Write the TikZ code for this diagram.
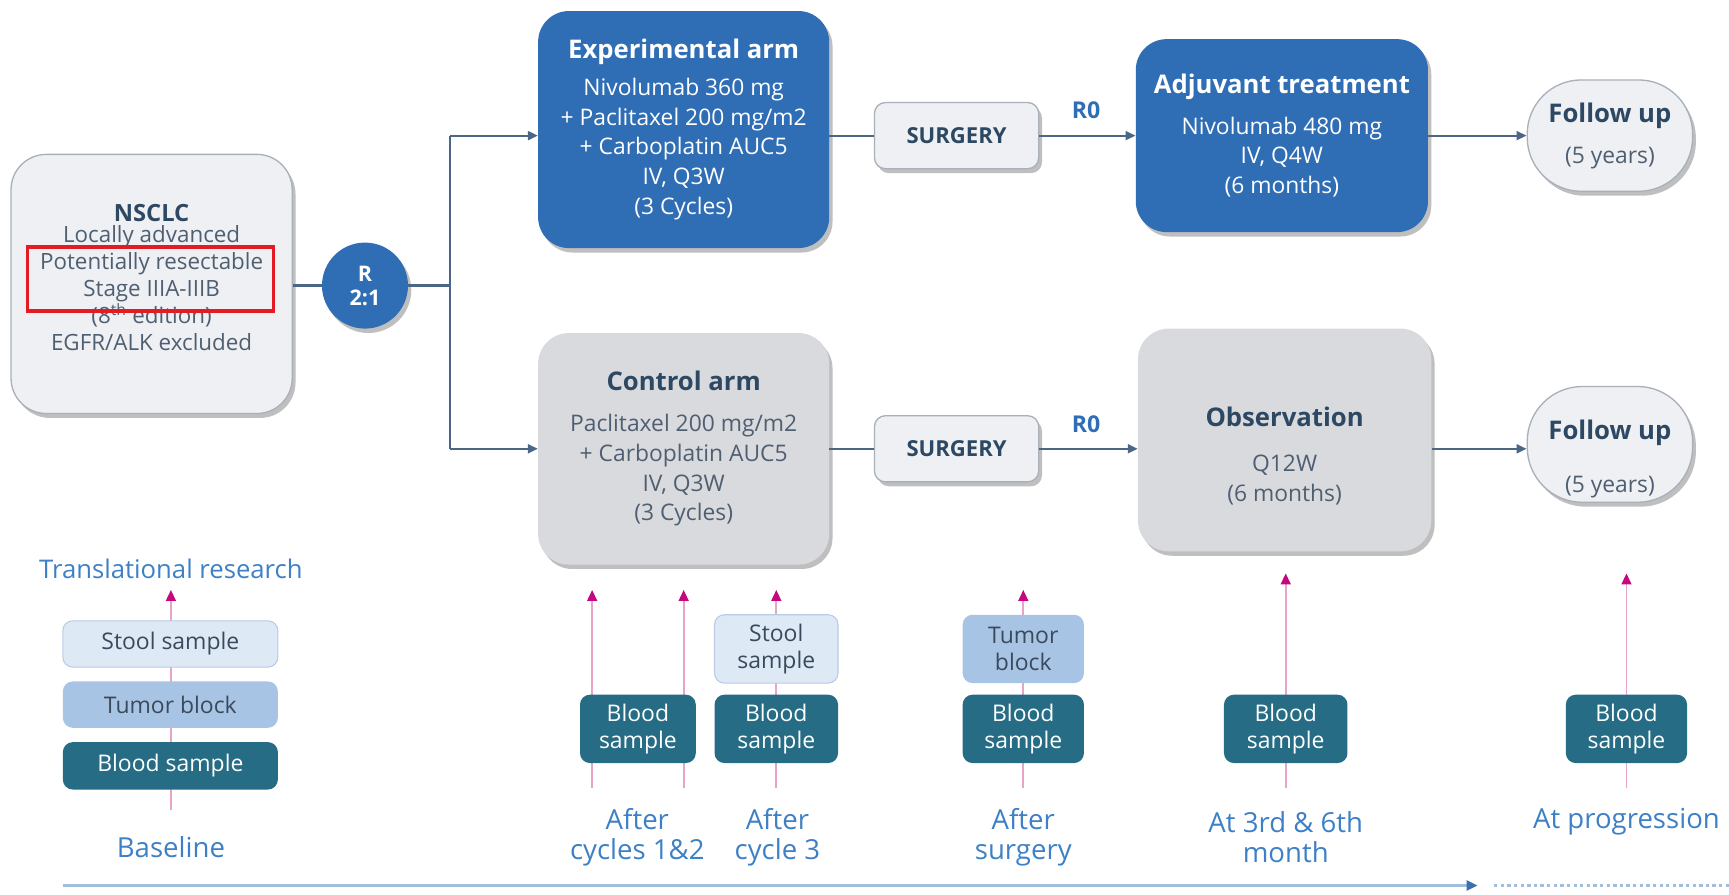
\documentclass[tikz,border=0pt]{standalone}
\usepackage{fontspec}
\setmainfont{Open Sans}
\usetikzlibrary{arrows.meta,shadows}
\definecolor{blueF}{HTML}{2F6DB5}
\definecolor{greyL}{HTML}{EEF0F3}
\definecolor{greyB}{HTML}{A9B0BA}
\definecolor{greyM}{HTML}{D9DADD}
\definecolor{titleT}{HTML}{2D4862}
\definecolor{bodyT}{HTML}{4F5F72}
\definecolor{connC}{HTML}{4B6785}
\definecolor{lblT}{HTML}{3D80C6}
\definecolor{pinkL}{HTML}{E8A3C8}
\definecolor{pinkA}{HTML}{C4087F}
\definecolor{bloodF}{HTML}{256C84}
\definecolor{tumorF}{HTML}{A8C4E5}
\definecolor{stoolF}{HTML}{DEE9F6}
\definecolor{stoolB}{HTML}{B9CCE6}
\definecolor{sampT}{HTML}{3A4A5C}
\definecolor{redC}{HTML}{E31B23}
\definecolor{timeC}{HTML}{A3BEDD}
\definecolor{timeA}{HTML}{3C6FB0}
\newcommand\fBody{\fontsize{20.7}{27}\selectfont}
\newcommand\fTitle{\fontsize{23.3}{27}\selectfont\bfseries}
\newcommand\fNs{\fontsize{20.3}{24.5}\selectfont}
\newcommand\fSamp{\fontsize{20.8}{25}\selectfont}
\newcommand\fLbl{\fontsize{25}{27}\selectfont}
\begin{document}
\begin{tikzpicture}[x=1pt,y=-1pt,
  shad/.style={drop shadow={shadow xshift=3pt,shadow yshift=-4pt,opacity=0.25,fill=black}},
  bigbox/.style={rectangle,rounded corners=28pt,align=center,inner sep=2pt,font=\fBody,shad},
  bluebox/.style={bigbox,fill=blueF,text=white},
  greybox/.style={bigbox,fill=greyM,text=bodyT},
  lightbox/.style={bigbox,fill=greyL,draw=greyB,line width=1.2pt,text=bodyT},
  conn/.style={draw=connC,line width=2pt},
  arr/.style={conn,-{Triangle[length=9pt,width=8pt]}},
  pinkarr/.style={draw=pinkL,line width=1.6pt,-{Triangle[length=10pt,width=9pt,color=pinkA]}},
  sample/.style={rectangle,rounded corners=9pt,align=center,inner sep=1pt,font=\fSamp},
  blood/.style={sample,fill=bloodF,text=white},
  tumor/.style={sample,fill=tumorF,text=sampT},
  stool/.style={sample,fill=stoolF,draw=stoolB,line width=1pt,text=sampT},
  lbl/.style={text=lblT,font=\fLbl,align=center,inner sep=0pt},
  rlbl/.style={text=blueF,font=\fontsize{21}{24}\selectfont\bfseries,inner sep=0pt}
]
\useasboundingbox (0,0) rectangle (1568,811);

% ---------- top part ----------
\node[lightbox,font=\fNs,minimum width=255pt,minimum height=235pt,rounded corners=32pt] (nsclc) at (137.5,257.5)
  {{\fontsize{21.5}{26}\selectfont\bfseries\color{titleT}NSCLC}\\[-5pt]
   Locally advanced\\Potentially resectable\\Stage IIIA-IIIB\\(8\textsuperscript{th} edition)\\{EGFR/ALK excluded\rule[-12pt]{0pt}{12pt}}};
\node[draw=redC,line width=3.5pt,minimum width=223pt,minimum height=58pt,inner sep=0pt] (redbox) at (136.5,253) {};

\node[circle,fill=blueF,minimum size=78pt,inner sep=0pt,align=center,text=white,
      font=\fontsize{19.5}{22}\selectfont\bfseries,shad] (rand) at (331,259) {R\\2:1};

\coordinate (split) at (408,259);
\coordinate (top) at (408,123);
\coordinate (bot) at (408,407);

\node[bluebox,minimum width=264pt,minimum height=215pt] (exp) at (620,117.5)
  {{\fTitle Experimental arm}\\[6pt]
   Nivolumab 360 mg\\+ Paclitaxel 200 mg/m2\\+ Carboplatin AUC5\\IV, Q3W\\(3 Cycles)};
\node[lightbox,rounded corners=10pt,minimum width=149pt,minimum height=60pt,
      font=\fontsize{20}{22}\selectfont\bfseries,text=titleT] (surg1) at (867.5,123) {SURGERY};
\node[bluebox,minimum width=265pt,minimum height=175pt] (adj) at (1162.5,123)
  {{\fTitle Adjuvant treatment}\\[10pt]
   Nivolumab 480 mg\\IV, Q4W\\(6 months)};
\node[lightbox,rounded corners=49pt,minimum width=150pt,minimum height=101pt] (fu1) at (1460,123)
  {{\fTitle\color{titleT}Follow up}\\[10pt](5 years)};
\node[rlbl] (r0a) at (985,100) {R0};

\node[greybox,minimum width=264pt,minimum height=210pt] (ctrl) at (620,407)
  {{\fTitle\color{titleT}Control arm}\\[10pt]
   Paclitaxel 200 mg/m2\\+ Carboplatin AUC5\\IV, Q3W\\(3 Cycles)};
\node[lightbox,rounded corners=10pt,minimum width=149pt,minimum height=60pt,
      font=\fontsize{20}{22}\selectfont\bfseries,text=titleT] (surg2) at (867.5,407) {SURGERY};
\node[greybox,minimum width=266pt,minimum height=202pt] (obs) at (1165,399)
  {{\rule{0pt}{46pt}\fTitle\color{titleT}Observation}\\[14pt]Q12W\\(6 months)};
\node[lightbox,rounded corners=50pt,minimum width=150pt,minimum height=105pt] (fu2) at (1460,403)
  {{\rule{0pt}{44pt}\fTitle\color{titleT}Follow up}\\[21pt](5 years)};
\node[rlbl] (r0b) at (985,385) {R0};

% connectors
\draw[conn] (nsclc.east |- rand) -- (rand);
\draw[conn] (rand) -- (split);
\draw[conn] (top) -- (bot);
\draw[arr] (top) -- (top -| exp.west);
\draw[arr] (bot) -- (bot -| ctrl.west);
\draw[conn] (top -| exp.east) -- (surg1.west);
\draw[arr] (surg1.east) -- (adj.west);
\draw[arr] (adj.east) -- (fu1.west);
\draw[conn] (bot -| ctrl.east) -- (surg2.west);
\draw[arr] (surg2.east) -- (surg2.east -| obs.west);
\draw[arr] (bot -| obs.east) -- (bot -| fu2.west);

% ---------- translational research ----------
\node[lbl,font=\fontsize{23.3}{27}\selectfont] (trans) at (155,516) {Translational research};

\coordinate (p0b) at (155,735);  \coordinate (p0t) at (155,535);
\coordinate (p1b) at (537,715);  \coordinate (p1t) at (537,535);
\coordinate (p2b) at (620,715);  \coordinate (p2t) at (620,535);
\coordinate (p3b) at (704,715);  \coordinate (p3t) at (704,535);
\coordinate (p4b) at (928,715);  \coordinate (p4t) at (928,535);
\coordinate (p5b) at (1166,715); \coordinate (p5t) at (1166,520);
\coordinate (p6b) at (1475,715); \coordinate (p6t) at (1475,520);
\foreach \i in {0,...,6} {\draw[pinkarr] (p\i b) -- (p\i t);}

\node[stool,minimum width=195pt,minimum height=42pt] (stool0) at (154.5,584) {Stool sample};
\node[tumor,minimum width=195pt,minimum height=42pt] (tumor0) at (154.5,639) {Tumor block};
\node[blood,minimum width=195pt,minimum height=43pt] (blood0) at (154.5,694.5) {Blood sample};
\node[lbl] (base) at (155,768) {Baseline};

\node[blood,minimum width=105pt,minimum height=62pt] (blood1) at (578.5,661) {Blood\\sample};
\node[lbl] (lab1) at (578,759) {After\\cycles 1\&2};

\node[stool,minimum width=112pt,minimum height=62pt] (stool3) at (704,588.5) {Stool\\sample};
\node[blood,minimum width=112pt,minimum height=62pt] (blood3) at (704,661) {Blood\\sample};
\node[lbl] (lab3) at (705,759) {After\\cycle 3};

\node[tumor,minimum width=110pt,minimum height=62pt] (tumor4) at (928,588.5) {Tumor\\block};
\node[blood,minimum width=110pt,minimum height=62pt] (blood4) at (928,661) {Blood\\sample};
\node[lbl] (lab4) at (928,759) {After\\surgery};

\node[blood,minimum width=112pt,minimum height=62pt] (blood5) at (1166,661) {Blood\\sample};
\node[lbl] (lab5) at (1166,759) {At 3rd \& 6th\\month};

\node[blood,minimum width=110pt,minimum height=62pt] (blood6) at (1475,661) {Blood\\sample};
\node[lbl] (lab6) at (1475,745) {At progression};

% timeline
\coordinate (t0) at (57,803);
\coordinate (t1) at (1340,803);
\coordinate (t2) at (1355,803);
\coordinate (t3) at (1568,803);
\draw[draw=timeC,line width=2.5pt,-{Triangle[length=10pt,width=9pt,color=timeA]}] (t0) -- (t1);
\draw[draw=timeC,line width=2pt,dash pattern=on 3pt off 3pt] (t2) -- (t3);
\end{tikzpicture}
\end{document}
